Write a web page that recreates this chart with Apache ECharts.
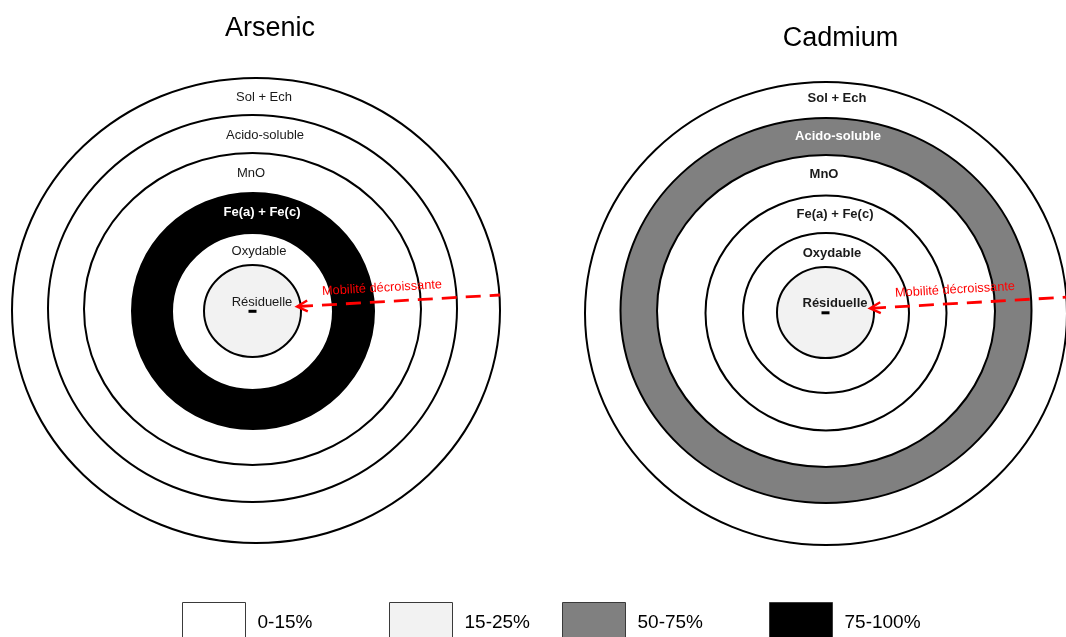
<!DOCTYPE html>
<html><head><meta charset="utf-8">
<script src="https://cdn.jsdelivr.net/npm/echarts@6/dist/echarts.min.js"></script>
<style>html,body{margin:0;padding:0;background:#fff}#c{width:1066px;height:637px}</style>
</head><body><div id="c"></div>
<script>
// ---------------- data ----------------
const ELEMENTS = ['Arsenic', 'Cadmium'];
const FRACTIONS = ['Sol + Ech', 'Acido-soluble', 'MnO', 'Fe(a) + Fe(c)', 'Oxydable', 'Résiduelle'];
const CLASSES = ['0-15%', '15-25%', '50-75%', '75-100%'];
const ARSENIC_CLASS = ['0-15%', '0-15%', '0-15%', '75-100%', '0-15%', '15-25%'];
const CADMIUM_CLASS = ['0-15%', '50-75%', '0-15%', '0-15%', '0-15%', '15-25%'];
const ARROW_LABEL = 'Mobilité décroissante';

// ---------------- layout / style ----------------
const FONT = '"Liberation Sans", Arial, sans-serif';
const CLASS_COLORS = ['#ffffff', '#f2f2f2', '#808080', '#000000'];
const DARK_CLASSES = ['50-75%', '75-100%'];
// ring geometry per panel: [dx, dy, rx, ry] relative to panel centre (axis units = px)
const PANELS = [
  { center: [253, 310.5], bold: false, title: [270, 15],
    rings: [[3, 0, 244, 232.5], [-0.5, 2, 204.5, 193.5], [-0.5, 1.5, 168.5, 156], [0, -0.5, 121, 118], [-0.5, -1, 80.5, 78.5], [-0.5, -0.5, 48.5, 46]] },
  { center: [826, 312.3], bold: true, title: [840.5, 25],
    rings: [[0, -1.2, 241, 231.5], [0, 1.8, 205.5, 192.5], [0, 1.3, 169, 156], [0, -0.7, 120.5, 117.5], [0, -0.7, 83, 80], [-0.5, -0.2, 48.5, 45.5]] }
];
const LABEL_OFFSETS = [[11, 213.5], [12, 175.5], [-2, 137.5], [9, 98], [6, 59], [9, 8.5]];
const ARROW = { tip: [44, 4], end: [247, 15.5], text: [129, 22.5] };
const LEGEND_LEFT = [182, 389, 562, 769];

const CLASS_BY_PANEL = [ARSENIC_CLASS, CADMIUM_CLASS];

const series = [];
PANELS.forEach((p, pi) => {
  const cls = CLASS_BY_PANEL[pi];
  CLASSES.forEach((c, ci) => {
    const data = [];
    cls.forEach((k, ri) => {
      if (k === c) { const r = p.rings[ri]; data.push([r[0], r[1], r[2], r[3], ri]); }
    });
    series.push({
      type: 'custom', name: c, coordinateSystem: 'cartesian2d', xAxisIndex: pi, yAxisIndex: pi,
      silent: true, animation: false, clip: false,
      itemStyle: { color: CLASS_COLORS[ci] },
      encode: { x: 0, y: 1 },
      data: data,
      renderItem: function (params, api) {
        const ctr = api.coord([api.value(0), api.value(1)]);
        const sz = api.size([api.value(2), api.value(3)]);
        const ri = api.value(4);
        const children = [{
          type: 'ellipse', z2: ri * 2,
          shape: { cx: ctr[0], cy: ctr[1], rx: sz[0], ry: sz[1] },
          style: { fill: CLASS_COLORS[ci], stroke: '#000', lineWidth: 2 }
        }];
        if (ri === FRACTIONS.length - 1) {
          children.push({ type: 'rect', z2: 60, shape: { x: ctr[0] - 4, y: ctr[1] - 1.2, width: 8, height: 3 }, style: { fill: '#000' } });
        }
        return { type: 'group', children: children };
      }
    });
  });
  // ring labels
  series.push({
    type: 'custom', coordinateSystem: 'cartesian2d', xAxisIndex: pi, yAxisIndex: pi,
    silent: true, animation: false, clip: false, z: 3,
    data: FRACTIONS.map((f, ri) => [LABEL_OFFSETS[ri][0], LABEL_OFFSETS[ri][1], ri]),
    renderItem: function (params, api) {
      const ri = api.value(2);
      const pt = api.coord([api.value(0), api.value(1)]);
      const dark = DARK_CLASSES.indexOf(cls[ri]) >= 0;
      return {
        type: 'text', x: pt[0], y: pt[1], z2: 100,
        style: {
          text: FRACTIONS[ri], fill: dark ? '#ffffff' : '#1a1a1a',
          font: ((p.bold || dark) ? 'bold ' : '') + '13px ' + FONT,
          align: 'center', verticalAlign: 'middle', textAlign: 'center', textVerticalAlign: 'middle'
        }
      };
    }
  });
  // arrow "Mobilité décroissante"
  series.push({
    type: 'custom', coordinateSystem: 'cartesian2d', xAxisIndex: pi, yAxisIndex: pi,
    silent: true, animation: false, clip: false, z: 4,
    data: [[ARROW.tip[0], ARROW.tip[1], ARROW.end[0], ARROW.end[1], ARROW.text[0], ARROW.text[1]]],
    renderItem: function (params, api) {
      const a = api.coord([api.value(0), api.value(1)]);
      const b = api.coord([api.value(2), api.value(3)]);
      const t = api.coord([api.value(4), api.value(5)]);
      const ux = b[0] - a[0], uy = b[1] - a[1];
      const L = Math.hypot(ux, uy), dx = ux / L, dy = uy / L;
      const ang = Math.atan2(-uy, ux);
      const arm = 10.5, w = 5.5;
      const p1 = [a[0] + dx * arm - dy * w, a[1] + dy * arm + dx * w];
      const p2 = [a[0] + dx * arm + dy * w, a[1] + dy * arm - dx * w];
      return {
        type: 'group', children: [
          { type: 'line', z2: 110, shape: { x1: a[0] + 1, y1: a[1], x2: b[0], y2: b[1] }, style: { stroke: '#ff0000', lineWidth: 2.8, lineDash: [15, 9] } },
          { type: 'polyline', z2: 110, shape: { points: [p1, a, p2] }, style: { stroke: '#ff0000', fill: null, lineWidth: 2.4 } },
          { type: 'text', z2: 110, x: t[0], y: t[1], rotation: ang,
            style: { text: ARROW_LABEL, fill: '#ff0000', font: '12.8px ' + FONT, align: 'center', verticalAlign: 'middle', textAlign: 'center', textVerticalAlign: 'middle' } }
        ]
      };
    }
  });
});

const option = {
  backgroundColor: '#ffffff',
  animation: false,
  title: PANELS.map((p, i) => ({
    text: ELEMENTS[i], left: p.title[0], top: p.title[1], textAlign: 'center', padding: 0,
    textStyle: { fontSize: 27, fontWeight: 'normal', color: '#000', fontFamily: FONT }
  })),
  grid: PANELS.map((p, i) => ({
    left: p.center[0] - 250, top: p.center[1] - 300, width: i === 0 ? 500 : 480, height: 600
  })),
  xAxis: PANELS.map((p, i) => ({ type: 'value', gridIndex: i, min: -250, max: i === 0 ? 250 : 230, show: false })),
  yAxis: PANELS.map((p, i) => ({ type: 'value', gridIndex: i, min: -300, max: 300, show: false })),
  legend: CLASSES.map((c, i) => ({
    data: [c], left: LEGEND_LEFT[i], top: 602, padding: 0, itemGap: 0,
    itemWidth: 63, itemHeight: 40, icon: 'rect', selectedMode: false,
    itemStyle: { borderColor: '#3a3a3a', borderWidth: 1 },
    textStyle: { fontSize: 19, color: '#000', fontFamily: FONT, padding: [0, 0, 0, 7] }
  })),
  series: series
};

const chart = echarts.init(document.getElementById('c'), null, { renderer: 'canvas' });
chart.setOption(option);
</script>
</body></html>
